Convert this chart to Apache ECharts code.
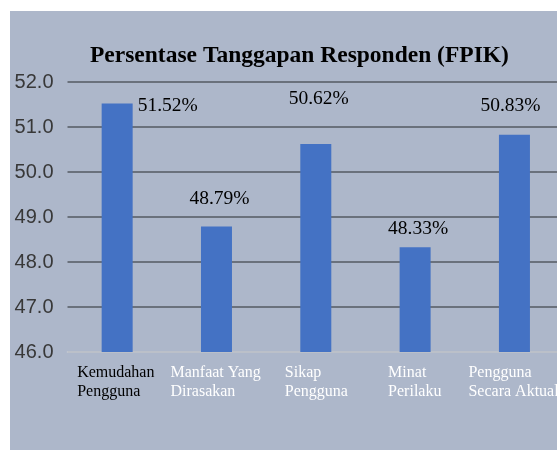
<!DOCTYPE html>
<html>
<head>
<meta charset="UTF-8">
<title>Persentase Tanggapan Responden</title>
<script src="https://cdn.jsdelivr.net/npm/echarts@6/dist/echarts.min.js"></script>
<style>
  html, body { margin: 0; padding: 0; background: #ffffff; }
  #wrap { position: relative; width: 557px; height: 450px; overflow: hidden; }
  #main { position: absolute; left: 10px; top: 11px; width: 547px; height: 439px; }
</style>
</head>
<body>
<div id="wrap"><div id="main"></div></div>
<script type="text/javascript">
// kategori dan nilai
var categories = ['Kemudahan\nPengguna', 'Manfaat Yang\nDirasakan', 'Sikap\nPengguna', 'Minat\nPerilaku', 'Pengguna\nSecara Aktual'];
var values = [51.52, 48.79, 50.62, 48.33, 50.83];
var yTicks = [46, 47, 48, 49, 50, 51, 52];
var labelColors = ['#000000', '#ffffff', '#ffffff', '#ffffff', '#ffffff'];
var labelWidths = [80, 92, 62, 54, 92];

var chart = echarts.init(document.getElementById('main'));

// label tiap batang ditaruh manual seperti di gambar
var labelPos = [
    { position: ['100%', 0], align: 'left', verticalAlign: 'middle', offset: [5, 2] },
    { position: 'top', distance: 18, offset: [3, 0] },
    { position: 'top', distance: 35, offset: [3, 0] },
    { position: 'top', distance: 8, offset: [3, 0] },
    { position: 'top', distance: 19, offset: [-4, 0] }
];

var barData = values.map(function (v, i) {
    return { value: v, label: labelPos[i] };
});

var rich = {};
categories.forEach(function (c, i) {
    rich['c' + i] = {
        width: labelWidths[i],
        align: 'left',
        color: labelColors[i],
        fontFamily: 'Liberation Serif',
        fontSize: 16,
        lineHeight: 19
    };
});

var option = {
    backgroundColor: '#adb7ca',
    animation: false,
    title: {
        text: 'Persentase Tanggapan Responden (FPIK)',
        left: 75,
        top: 28,
        textStyle: {
            fontFamily: 'Liberation Serif',
            fontWeight: 'bold',
            fontSize: 23.5,
            color: '#000000'
        }
    },
    grid: {
        left: 57.5,
        width: 496.6,
        top: 71,
        bottom: 98,
        outerBoundsMode: 'none'
    },
    xAxis: {
        type: 'category',
        data: categories,
        axisTick: { show: false },
        axisLine: { lineStyle: { color: '#d6dae2', width: 1.5 } },
        axisLabel: {
            interval: 0,
            margin: 11,
            formatter: function (val, idx) {
                return val.split('\n').map(function (s) {
                    return '{c' + idx + '|' + s + '}';
                }).join('\n');
            },
            rich: rich
        }
    },
    yAxis: {
        type: 'value',
        min: yTicks[0],
        max: yTicks[yTicks.length - 1],
        interval: 1,
        axisLine: { show: false },
        axisTick: { show: false },
        axisLabel: {
            margin: 14,
            color: '#383838',
            fontFamily: 'Liberation Sans',
            fontSize: 20,
            formatter: function (v) { return v.toFixed(1); }
        },
        splitLine: { lineStyle: { color: '#555a62', width: 1.5 } }
    },
    series: [{
        type: 'bar',
        data: barData,
        barWidth: 31,
        itemStyle: { color: '#4472c4' },
        label: {
            show: true,
            color: '#000000',
            fontFamily: 'Liberation Serif',
            fontSize: 19.5,
            formatter: function (p) { return p.value.toFixed(2) + '%'; }
        }
    }]
};

chart.setOption(option);
</script>
</body>
</html>
